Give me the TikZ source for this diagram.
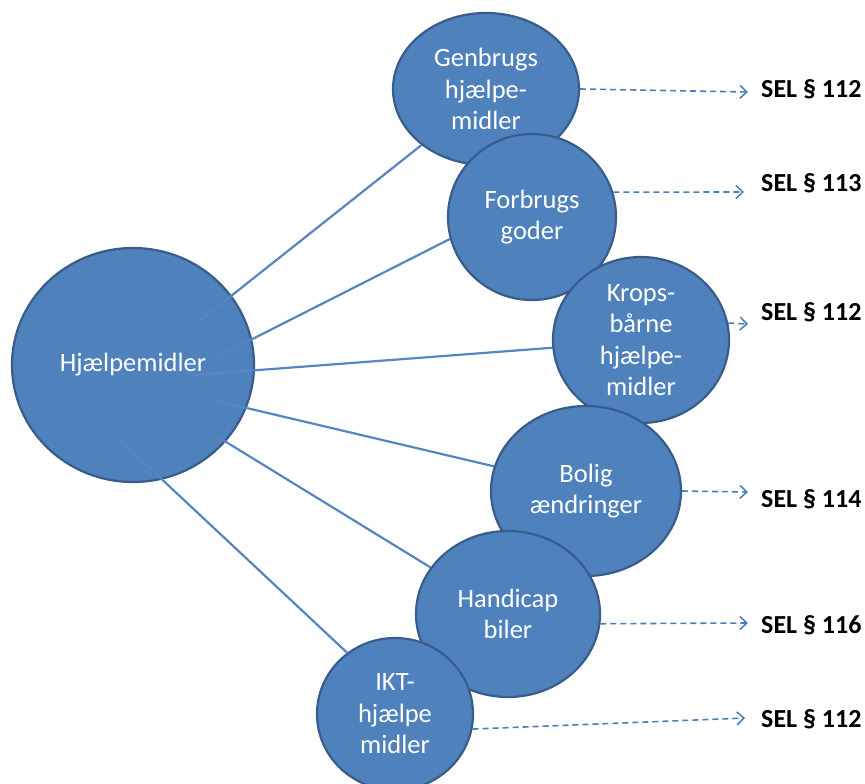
\documentclass[tikz,border=0pt]{standalone}
\usepackage{fontspec}
\setmainfont{Carlito}
\usetikzlibrary{shapes.geometric,arrows.meta}
\definecolor{fillblue}{HTML}{4F81BD}
\definecolor{edgeblue}{HTML}{385D8A}
\definecolor{lineblue}{HTML}{5686C2}
\definecolor{arrowblue}{HTML}{4A7EBB}
\pgfdeclarelayer{bottom}
\pgfdeclarelayer{lines}
\pgfsetlayers{bottom,lines,main}
\begin{document}
\begin{tikzpicture}[x=1pt,y=-1pt,
  bubble/.style={ellipse,draw=edgeblue,line width=2.2pt,fill=fillblue,text=white,align=center,inner sep=0pt,font=\fontsize{26.5}{31.5}\selectfont},
  conn/.style={draw=lineblue,line width=2.2pt},
  selarrow/.style={draw=arrowblue,line width=1.6pt,dash pattern=on 6pt off 4pt,-{Straight Barb[length=7pt,width=13pt,line width=1.5pt]}},
  sel/.style={anchor=base west,inner sep=0pt,font=\fontsize{26}{30}\selectfont\bfseries}]
\useasboundingbox (0,0) rectangle (865,784);
\begin{pgfonlayer}{bottom}
\node[bubble,minimum width=242pt,minimum height=234pt] (hj) at (133,365) {Hjælpemidler};
\end{pgfonlayer}
\node[bubble,minimum width=186pt,minimum height=152pt] (gen) at (486,89) {Genbrugs\\hjælpe-\\midler};
\node[bubble,minimum width=168pt,minimum height=166pt] (forb) at (532,217) {Forbrugs\\goder};
\node[bubble,minimum width=176pt,minimum height=166pt] (krops) at (641,340) {Krops-\\bårne\\hjælpe-\\midler};
\node[bubble,minimum width=190pt,minimum height=170pt] (bolig) at (586,491) {Bolig\\ændringer};
\node[bubble,minimum width=184pt,minimum height=166pt] (handi) at (508,614) {Handicap\\biler};
\node[bubble,minimum width=156pt,minimum height=152pt] (ikt) at (395,714) {IKT-\\hjælpe\\midler};
% start points of connectors inside the big circle
\coordinate (s1) at (197,323);
\coordinate (s2) at (217,357);
\coordinate (s3) at (193,375);
\coordinate (s4) at (217,401);
\coordinate (s5) at (218,437);
\coordinate (s6) at (122,442);
\begin{pgfonlayer}{lines}
\draw[conn] (s1) -- (gen.221);
\draw[conn] (s2) -- (forb.195);
\draw[conn] (s3) -- (krops.185);
\draw[conn] (s4) -- (bolig.165);
\draw[conn] (s5) -- (handi.149);
\draw[conn] (s6) -- (ikt.128);
\end{pgfonlayer}
% SEL labels
\node[sel] (l1) at (761,98) {SEL § 112};
\node[sel] (l2) at (761,191) {SEL § 113};
\node[sel] (l3) at (761,320) {SEL § 112};
\node[sel] (l4) at (761,507) {SEL § 114};
\node[sel] (l5) at (761,633) {SEL § 116};
\node[sel] (l6) at (761,727) {SEL § 112};
\coordinate (e1) at (748,92);
\coordinate (e2) at (744,192);
\coordinate (e3) at (748,324);
\coordinate (e4) at (748,492);
\coordinate (e5) at (748,623);
\coordinate (e6) at (745,718);
\draw[selarrow] (gen.east) -- (e1);
\draw[selarrow] (forb.17) -- (e2);
\draw[selarrow] (krops.11) -- (e3);
\draw[selarrow] (bolig.east) -- (e4);
\draw[selarrow] (handi.-6) -- (e5);
\draw[selarrow] (ikt.-11) -- (e6);
\end{tikzpicture}
\end{document}
